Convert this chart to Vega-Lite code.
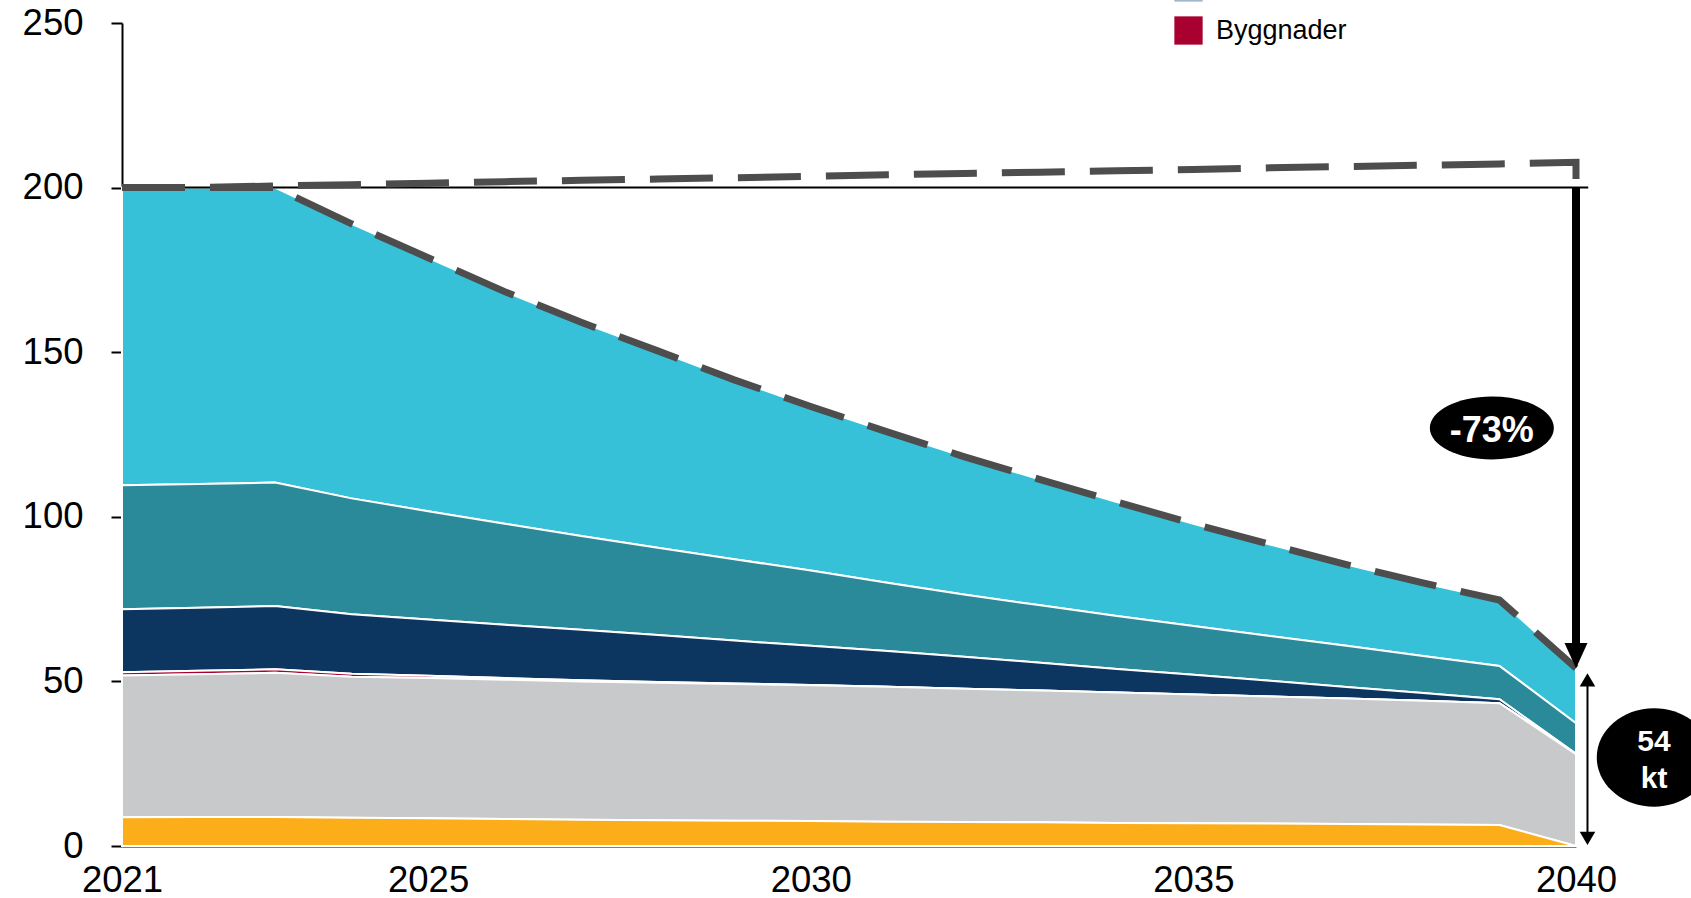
{
  "$schema": "https://vega.github.io/schema/vega-lite/v6.json",
  "width": 1454,
  "height": 823,
  "autosize": {"type": "none"},
  "padding": {"left": 122, "top": 23, "right": 115, "bottom": 52},
  "background": "white",
  "config": {
    "view": {"stroke": null},
    "font": "Liberation Sans",
    "axis": {
      "domainColor": "#000000",
      "domainWidth": 2,
      "tickColor": "#000000",
      "tickWidth": 2,
      "labelColor": "#000000",
      "labelFont": "Liberation Sans",
      "labelFontSize": 36.5,
      "grid": false,
      "zindex": 1
    },
    "axisX": {"ticks": false, "tickSize": 0, "labelPadding": 16, "labelFlush": false, "labelOverlap": false},
    "axisY": {"tickSize": 11, "labelPadding": 28}
  },
  "datasets": {
    "emissions": [
      {"year": 2021, "Transporter": 90.4, "Arbetsmaskiner": 37.7, "Industri": 19.1, "Byggnader": 1.0, "Jordbruk": 43.1, "Avfall": 8.7},
      {"year": 2022, "Transporter": 90.0, "Arbetsmaskiner": 37.6, "Industri": 19.2, "Byggnader": 1.0, "Jordbruk": 43.4, "Avfall": 8.8},
      {"year": 2023, "Transporter": 89.6, "Arbetsmaskiner": 37.5, "Industri": 19.2, "Byggnader": 1.1, "Jordbruk": 43.8, "Avfall": 8.8},
      {"year": 2024, "Transporter": 83.4, "Arbetsmaskiner": 35.2, "Industri": 18.1, "Byggnader": 0.9, "Jordbruk": 42.8, "Avfall": 8.6},
      {"year": 2025, "Transporter": 77.0, "Arbetsmaskiner": 32.9, "Industri": 17.1, "Byggnader": 0.7, "Jordbruk": 42.6, "Avfall": 8.4},
      {"year": 2026, "Transporter": 70.5, "Arbetsmaskiner": 30.7, "Industri": 16.2, "Byggnader": 0.5, "Jordbruk": 42.3, "Avfall": 8.2},
      {"year": 2027, "Transporter": 64.9, "Arbetsmaskiner": 28.5, "Industri": 15.35, "Byggnader": 0.35, "Jordbruk": 42.0, "Avfall": 8.0},
      {"year": 2028, "Transporter": 59.8, "Arbetsmaskiner": 26.5, "Industri": 14.25, "Byggnader": 0.25, "Jordbruk": 41.8, "Avfall": 7.8},
      {"year": 2029, "Transporter": 54.5, "Arbetsmaskiner": 24.7, "Industri": 13.05, "Byggnader": 0.15, "Jordbruk": 41.5, "Avfall": 7.7},
      {"year": 2030, "Transporter": 49.8, "Arbetsmaskiner": 22.9, "Industri": 11.9, "Byggnader": 0.1, "Jordbruk": 41.2, "Avfall": 7.6},
      {"year": 2031, "Transporter": 45.8, "Arbetsmaskiner": 20.8, "Industri": 10.8, "Byggnader": 0, "Jordbruk": 41.0, "Avfall": 7.4},
      {"year": 2032, "Transporter": 41.9, "Arbetsmaskiner": 18.9, "Industri": 9.7, "Byggnader": 0, "Jordbruk": 40.5, "Avfall": 7.3},
      {"year": 2033, "Transporter": 38.2, "Arbetsmaskiner": 17.4, "Industri": 8.5, "Byggnader": 0, "Jordbruk": 40.0, "Avfall": 7.2},
      {"year": 2034, "Transporter": 34.6, "Arbetsmaskiner": 16.1, "Industri": 7.2, "Byggnader": 0, "Jordbruk": 39.6, "Avfall": 7.0},
      {"year": 2035, "Transporter": 31.1, "Arbetsmaskiner": 14.8, "Industri": 6.0, "Byggnader": 0, "Jordbruk": 39.1, "Avfall": 6.9},
      {"year": 2036, "Transporter": 27.8, "Arbetsmaskiner": 13.6, "Industri": 4.8, "Byggnader": 0, "Jordbruk": 38.6, "Avfall": 6.8},
      {"year": 2037, "Transporter": 24.7, "Arbetsmaskiner": 12.5, "Industri": 3.5, "Byggnader": 0, "Jordbruk": 38.1, "Avfall": 6.7},
      {"year": 2038, "Transporter": 22.2, "Arbetsmaskiner": 11.2, "Industri": 2.4, "Byggnader": 0, "Jordbruk": 37.6, "Avfall": 6.5},
      {"year": 2039, "Transporter": 20.0, "Arbetsmaskiner": 10.1, "Industri": 1.2, "Byggnader": 0, "Jordbruk": 37.0, "Avfall": 6.4},
      {"year": 2040, "Transporter": 16.7, "Arbetsmaskiner": 9.3, "Industri": 0.1, "Byggnader": 0, "Jordbruk": 27.9, "Avfall": 0}
    ],
    "referensbana": [
      {"year": 2021, "value": 200},
      {"year": 2022, "value": 200},
      {"year": 2023, "value": 200.5},
      {"year": 2024, "value": 200.9},
      {"year": 2025, "value": 201.3},
      {"year": 2026, "value": 201.8},
      {"year": 2027, "value": 202.2},
      {"year": 2028, "value": 202.6},
      {"year": 2029, "value": 203.0},
      {"year": 2030, "value": 203.4},
      {"year": 2031, "value": 203.9},
      {"year": 2032, "value": 204.3},
      {"year": 2033, "value": 204.7},
      {"year": 2034, "value": 205.1},
      {"year": 2035, "value": 205.5},
      {"year": 2036, "value": 206.0},
      {"year": 2037, "value": 206.4},
      {"year": 2038, "value": 206.8},
      {"year": 2039, "value": 207.2},
      {"year": 2040, "value": 207.7},
      {"year": 2040, "value": 200}
    ],
    "baseline2021": [
      {"year": 2021, "end": 2040.16, "value": 200}
    ],
    "reduction": [
      {"year": 2040, "from": 200, "to": 54}
    ],
    "remaining": [
      {"year": 2040.15, "from": 0, "to": 54}
    ],
    "bubbles": [
      {"year": 2038.9, "value": 127, "label": "-73%"},
      {"year": 2041.02, "value": 26.9, "label": "54 kt"}
    ]
  },
  "layer": [
    {
      "data": {"name": "emissions"},
      "transform": [
        {"fold": ["Transporter", "Arbetsmaskiner", "Industri", "Byggnader", "Jordbruk", "Avfall"], "as": ["sector", "value"]},
        {"calculate": "indexof(['Avfall','Jordbruk','Byggnader','Industri','Arbetsmaskiner','Transporter'], datum.sector)", "as": "stackRank"}
      ],
      "mark": {"type": "area", "stroke": "white", "strokeWidth": 2, "opacity": 1},
      "encoding": {
        "x": {
          "field": "year", "type": "quantitative",
          "scale": {"domain": [2021, 2040], "nice": false, "zero": false},
          "axis": {"values": [2021, 2025, 2030, 2035, 2040], "format": "d", "title": null}
        },
        "y": {
          "field": "value", "type": "quantitative", "stack": "zero",
          "scale": {"domain": [0, 250], "nice": false},
          "axis": {"values": [0, 50, 100, 150, 200, 250], "title": null}
        },
        "color": {
          "field": "sector", "type": "nominal",
          "scale": {
            "domain": ["Transporter", "Arbetsmaskiner", "Industri", "Jordbruk", "Avfall", "El och värme", "Byggnader"],
            "range": ["#37C1D9", "#2B8A9A", "#0C3560", "#C8C9CB", "#FBAE19", "#A3B7CC", "#A8002F"]
          },
          "legend": {
            "orient": "none",
            "legendX": 1052,
            "legendY": -265,
            "title": null,
            "padding": 0,
            "symbolType": "square",
            "symbolSize": 800,
            "symbolStrokeWidth": 0,
            "symbolOpacity": 1,
            "labelFont": "Liberation Sans",
            "labelFontSize": 27,
            "labelColor": "#000000",
            "labelOffset": 13,
            "labelLimit": 400,
            "rowPadding": 14
          }
        },
        "order": {"field": "stackRank", "type": "quantitative"}
      }
    },
    {
      "data": {"name": "baseline2021"},
      "mark": {"type": "rule", "color": "#000000", "strokeWidth": 2},
      "encoding": {
        "x": {"field": "year", "type": "quantitative", "title": null},
        "x2": {"field": "end"},
        "y": {"field": "value", "type": "quantitative", "title": null}
      }
    },
    {
      "data": {"name": "referensbana"},
      "mark": {"type": "line", "color": "#4D4D4D", "strokeWidth": 7, "strokeDash": [63, 25], "strokeCap": "butt", "strokeJoin": "miter"},
      "encoding": {
        "x": {"field": "year", "type": "quantitative", "title": null},
        "y": {"field": "value", "type": "quantitative", "title": null}
      }
    },
    {
      "data": {"name": "emissions"},
      "transform": [
        {"fold": ["Transporter", "Arbetsmaskiner", "Industri", "Byggnader", "Jordbruk", "Avfall"], "as": ["sector", "value"]},
        {"aggregate": [{"op": "sum", "field": "value", "as": "value"}], "groupby": ["year"]}
      ],
      "mark": {"type": "line", "color": "#4D4D4D", "strokeWidth": 7, "strokeDash": [63, 25], "strokeCap": "butt", "strokeJoin": "miter"},
      "encoding": {
        "x": {"field": "year", "type": "quantitative", "title": null},
        "y": {"field": "value", "type": "quantitative", "title": null}
      }
    },
    {
      "data": {"name": "reduction"},
      "layer": [
        {
          "mark": {"type": "rule", "color": "#000000", "strokeWidth": 8, "y2Offset": -12},
          "encoding": {
            "x": {"field": "year", "type": "quantitative", "title": null},
            "y": {"field": "from", "type": "quantitative", "title": null},
            "y2": {"field": "to"}
          }
        },
        {
          "mark": {"type": "point", "shape": "M-1,-2.2L1,-2.2L0,0Z", "filled": true, "color": "#000000", "size": 529, "opacity": 1, "strokeWidth": 0},
          "encoding": {
            "x": {"field": "year", "type": "quantitative", "title": null},
            "y": {"field": "to", "type": "quantitative", "title": null}
          }
        }
      ]
    },
    {
      "data": {"name": "remaining"},
      "layer": [
        {
          "mark": {"type": "rule", "color": "#000000", "strokeWidth": 2, "yOffset": -8, "y2Offset": 12},
          "encoding": {
            "x": {"field": "year", "type": "quantitative", "title": null},
            "y": {"field": "from", "type": "quantitative", "title": null},
            "y2": {"field": "to"}
          }
        },
        {
          "mark": {"type": "point", "shape": "M-1,1.7L1,1.7L0,0Z", "filled": true, "color": "#000000", "size": 243, "opacity": 1, "strokeWidth": 0, "yOffset": 5},
          "encoding": {
            "x": {"field": "year", "type": "quantitative", "title": null},
            "y": {"field": "to", "type": "quantitative", "title": null}
          }
        },
        {
          "mark": {"type": "point", "shape": "M-1,-1.7L1,-1.7L0,0Z", "filled": true, "color": "#000000", "size": 243, "opacity": 1, "strokeWidth": 0, "yOffset": -1},
          "encoding": {
            "x": {"field": "year", "type": "quantitative", "title": null},
            "y": {"field": "from", "type": "quantitative", "title": null}
          }
        }
      ]
    },
    {
      "data": {"name": "bubbles"},
      "transform": [{"filter": "datum.label === '-73%'"}],
      "layer": [
        {
          "mark": {"type": "point", "shape": "M-1,0A1,0.508 0 1,1 1,0A1,0.508 0 1,1 -1,0Z", "filled": true, "color": "#000000", "size": 15376, "opacity": 1, "strokeWidth": 0},
          "encoding": {
            "x": {"field": "year", "type": "quantitative", "title": null},
            "y": {"field": "value", "type": "quantitative", "title": null}
          }
        },
        {
          "mark": {"type": "text", "color": "#FFFFFF", "font": "Liberation Sans", "fontWeight": "bold", "fontSize": 36, "align": "center", "baseline": "middle", "dy": 3},
          "encoding": {
            "x": {"field": "year", "type": "quantitative", "title": null},
            "y": {"field": "value", "type": "quantitative", "title": null},
            "text": {"field": "label"}
          }
        }
      ]
    },
    {
      "data": {"name": "bubbles"},
      "transform": [{"filter": "datum.label === '54 kt'"}],
      "layer": [
        {
          "mark": {"type": "point", "shape": "M-1,0A1,0.86 0 1,1 1,0A1,0.86 0 1,1 -1,0Z", "filled": true, "color": "#000000", "size": 13133, "opacity": 1, "strokeWidth": 0},
          "encoding": {
            "x": {"field": "year", "type": "quantitative", "title": null},
            "y": {"field": "value", "type": "quantitative", "title": null}
          }
        },
        {
          "mark": {"type": "text", "color": "#FFFFFF", "font": "Liberation Sans", "fontWeight": "bold", "fontSize": 30, "align": "center", "baseline": "middle", "lineHeight": 37, "dy": -15},
          "encoding": {
            "x": {"field": "year", "type": "quantitative", "title": null},
            "y": {"field": "value", "type": "quantitative", "title": null},
            "text": {"value": ["54", "kt"]}
          }
        }
      ]
    }
  ]
}
